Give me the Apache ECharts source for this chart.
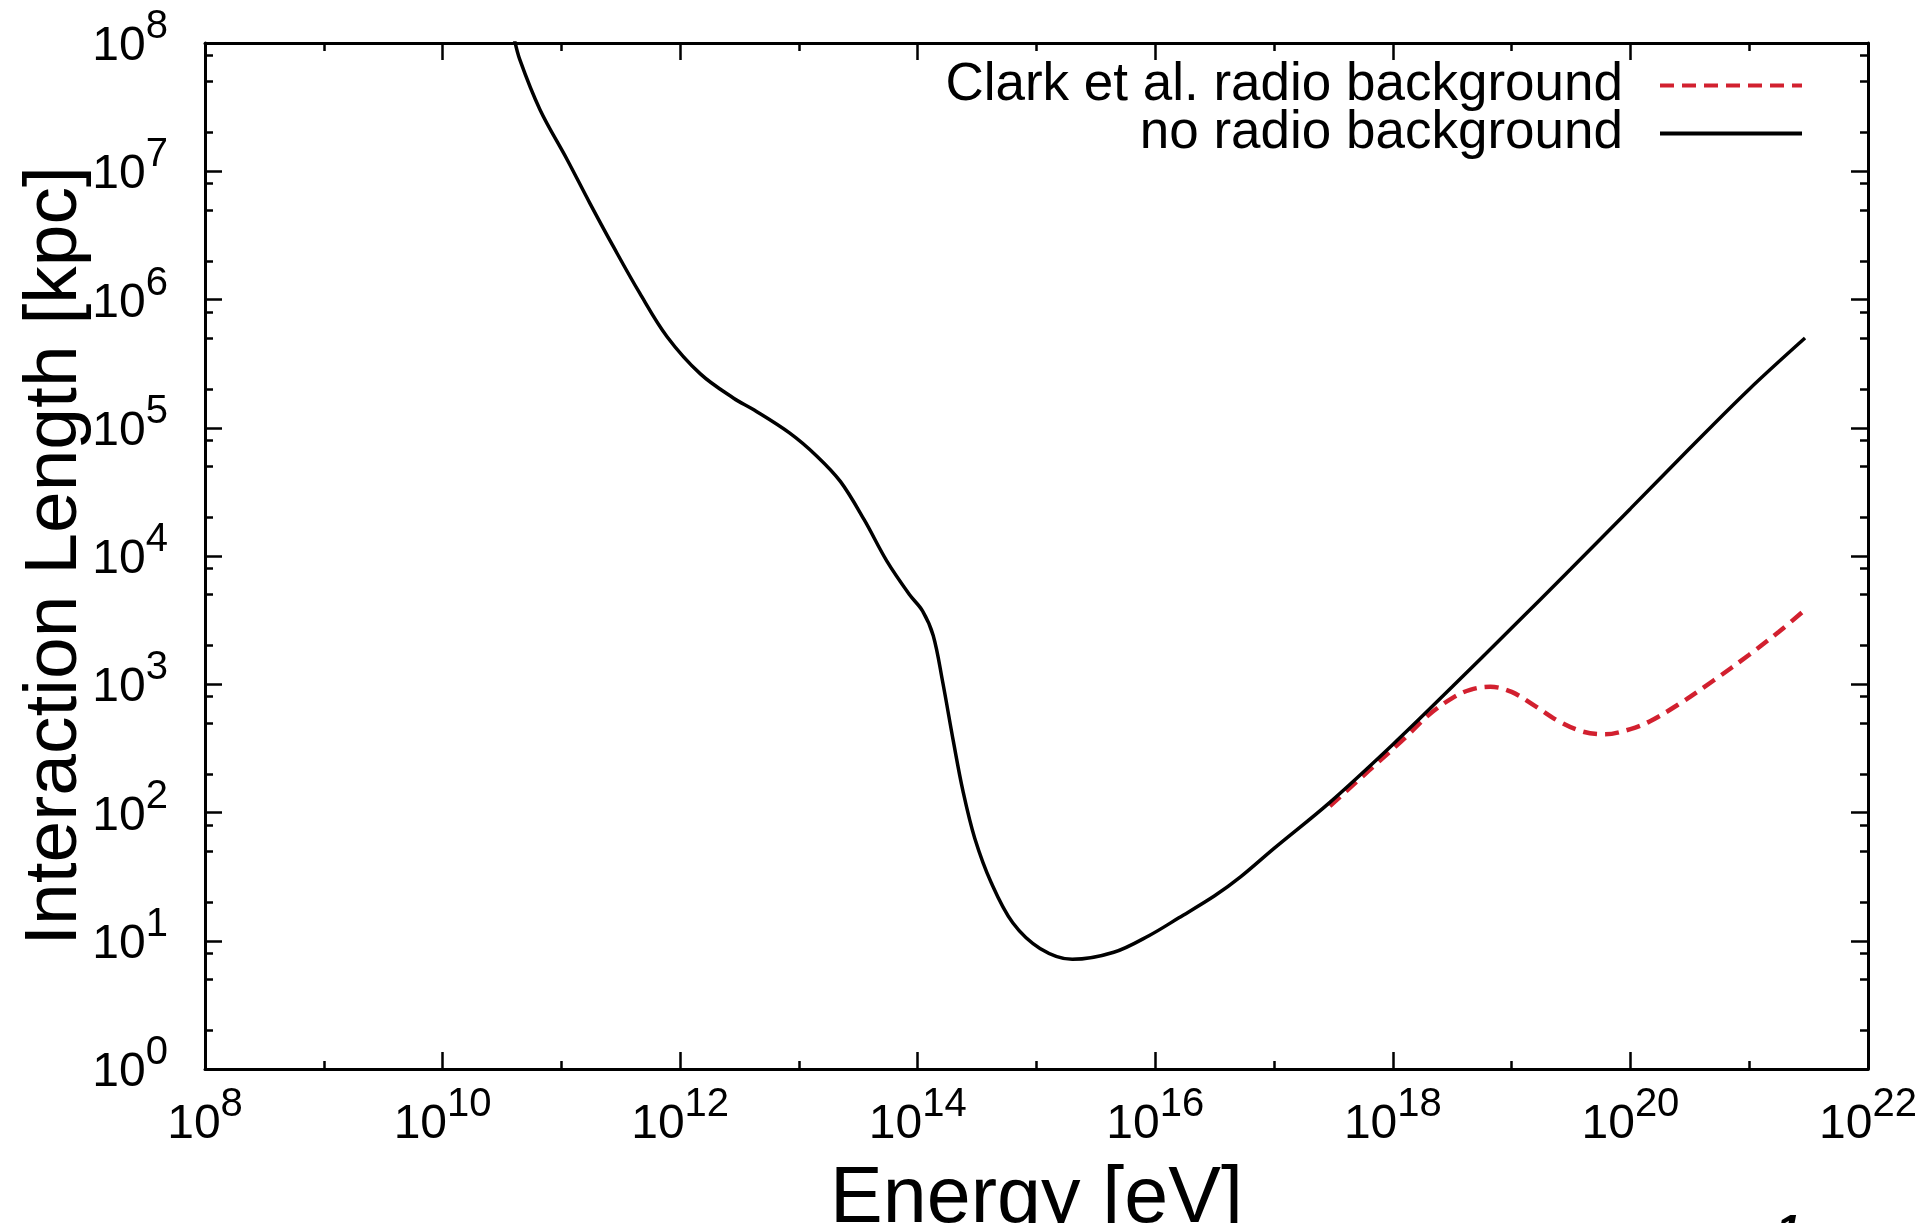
<!DOCTYPE html>
<html>
<head>
<meta charset="utf-8">
<title>Interaction length vs energy</title>
<script src="https://cdn.jsdelivr.net/npm/echarts@6/dist/echarts.min.js"></script>
<style>
  html, body { margin: 0; padding: 0; background: #ffffff; }
  #chart { width: 1927px; height: 1223px; }
</style>
</head>
<body>
<div id="chart"></div>
<script>
// Photon interaction length [kpc] versus energy [eV]
const seriesNames = ['Clark et al. radio background', 'no radio background'];

// no radio background
const energyNoRadio = [
  3.98e10, 4.47e10, 6.61e10, 1.12e11, 1.74e11, 2.75e11, 4.57e11, 7.76e11,
  1.48e12, 2.82e12, 4.17e12, 8.32e12, 1.41e13, 2.24e13, 3.55e13, 5.50e13,
  8.51e13, 1.10e14, 1.35e14, 1.62e14, 2.00e14, 2.40e14, 3.02e14, 4.17e14,
  6.31e14, 1.07e15, 2.00e15, 4.47e15, 8.91e15, 1.58e16, 3.16e16, 5.25e16,
  1.00e17, 2.95e17, 1.00e18, 3.16e18, 1.00e19, 3.16e19, 1.00e20, 3.16e20,
  1.00e21, 2.95e21
];
const lengthNoRadio = [
  1.12e8, 7.41e7, 3.02e7, 1.23e7, 5.62e6, 2.57e6, 1.12e6, 5.13e5,
  2.63e5, 1.70e5, 1.38e5, 9.12e4, 6.03e4, 3.80e4, 1.91e4, 9.12e3,
  5.01e3, 3.72e3, 2.40e3, 1.05e3, 355, 148, 63.1, 28.2,
  13.8, 8.71, 7.16, 8.13, 11.0, 15.1, 22.4, 31.6,
  52.5, 120, 339, 955, 2.75e3, 7.94e3, 2.34e4, 6.92e4,
  2.00e5, 5.01e5
];

// Clark et al. radio background
const energyRadio = [
  2.95e17, 6.31e17, 1.26e18, 2.00e18, 3.16e18, 4.47e18, 6.61e18, 1.00e19,
  1.58e19, 2.51e19, 3.98e19, 6.03e19, 1.00e20, 1.45e20, 2.51e20, 5.01e20,
  1.00e21, 1.78e21, 2.95e21
];
const lengthRadio = [
  112, 213, 380, 575, 780, 905, 955, 871,
  676, 513, 427, 407, 447, 513, 692, 1.07e3,
  1.70e3, 2.57e3, 3.80e3
];

// tick positions
const xMajorTicks = [1e8, 1e10, 1e12, 1e14, 1e16, 1e18, 1e20, 1e22];
const xMinorTicks = [1e9, 1e11, 1e13, 1e15, 1e17, 1e19, 1e21];
const yMajorTicks = [1, 1e1, 1e2, 1e3, 1e4, 1e5, 1e6, 1e7, 1e8];
const yMinorTicks = [
  2, 5, 8, 20, 50, 80, 200, 500, 800, 2e3, 5e3, 8e3,
  2e4, 5e4, 8e4, 2e5, 5e5, 8e5, 2e6, 5e6, 8e6, 2e7, 5e7, 8e7
];

const FONT = '"Liberation Sans", Arial, Helvetica, sans-serif';

function pairs(xs, ys) {
  return xs.map((x, i) => [x, ys[i]]);
}

function powerLabel(v) {
  const e = Math.round(Math.log10(v));
  return '10{sup|' + e + '}';
}

const labelRich = {
  sup: { fontSize: 40, lineHeight: 40, padding: [0, 0, 40, 0], fontFamily: FONT, color: '#000' }
};

function logAxis(extra) {
  return Object.assign({
    type: 'log',
    logBase: 10,
    splitLine: { show: false },
    minorTick: { show: false },
    minorSplitLine: { show: false },
    axisLine: { show: false },
    axisLabel: { show: false },
    axisPointer: { show: false },
    silent: true
  }, extra);
}

function ticks(values, len) {
  return {
    show: true, inside: true, length: len, customValues: values,
    lineStyle: { color: '#000', width: 2.5 }
  };
}

const frameLine = { show: true, onZero: false, lineStyle: { color: '#000', width: 3 } };

const chart = echarts.init(document.getElementById('chart'), null, { renderer: 'canvas' });

chart.setOption({
  backgroundColor: '#ffffff',
  animation: false,
  grid: {
    left: 205, right: 59, top: 43, bottom: 154,
    containLabel: false, outerBoundsMode: 'none'
  },
  legend: {
    data: seriesNames,
    orient: 'vertical',
    right: 123,
    top: 59,
    align: 'right',
    padding: 0,
    itemWidth: 142,
    itemHeight: 14,
    itemGap: -5,
    selectedMode: false,
    itemStyle: { opacity: 0, borderWidth: 0 },
    lineStyle: { width: 4 },
    textStyle: {
      fontSize: 53, fontFamily: FONT, color: '#000', lineHeight: 40,
      padding: [0, 32, 0, 0]
    }
  },
  xAxis: [
    logAxis({
      min: 1e8, max: 1e22, position: 'bottom',
      axisLine: frameLine,
      axisTick: ticks(xMajorTicks, 17),
      axisLabel: {
        show: true, customValues: xMajorTicks, formatter: powerLabel,
        margin: 31, fontSize: 48, lineHeight: 50, fontFamily: FONT, color: '#000',
        rich: labelRich
      },
      name: 'Energy [eV]',
      nameLocation: 'middle',
      nameGap: 91,
      nameMoveOverlap: false,
      nameTextStyle: { fontSize: 79, fontFamily: FONT, color: '#000', lineHeight: 80 }
    }),
    logAxis({ min: 1e8, max: 1e22, position: 'top', axisLine: frameLine, axisTick: ticks(xMajorTicks, 17) }),
    logAxis({ min: 1e8, max: 1e22, position: 'bottom', axisTick: ticks(xMinorTicks, 8) }),
    logAxis({ min: 1e8, max: 1e22, position: 'top', axisTick: ticks(xMinorTicks, 8) })
  ],
  yAxis: [
    logAxis({
      min: 1, max: 1e8, position: 'left',
      axisLine: frameLine,
      axisTick: ticks(yMajorTicks, 17),
      axisLabel: {
        show: true, customValues: yMajorTicks, formatter: powerLabel,
        margin: 37, fontSize: 48, lineHeight: 50, fontFamily: FONT, color: '#000',
        padding: [8, 0, 0, 0],
        rich: labelRich
      },
      name: 'Interaction Length [kpc]',
      nameLocation: 'middle',
      nameRotate: 90,
      nameGap: 112,
      nameMoveOverlap: false,
      nameTextStyle: { fontSize: 75, fontFamily: FONT, color: '#000', lineHeight: 76 }
    }),
    logAxis({ min: 1, max: 1e8, position: 'right', axisLine: frameLine, axisTick: ticks(yMajorTicks, 17) }),
    logAxis({ min: 1, max: 1e8, position: 'left', axisTick: ticks(yMinorTicks, 8) }),
    logAxis({ min: 1, max: 1e8, position: 'right', axisTick: ticks(yMinorTicks, 8) })
  ],
  series: [
    {
      name: seriesNames[0],
      type: 'line',
      xAxisIndex: 0, yAxisIndex: 0,
      data: pairs(energyRadio, lengthRadio),
      showSymbol: false, symbol: 'none',
      smooth: 0.35,
      lineStyle: { color: '#d2202f', width: 4.5, type: [14, 8] },
      itemStyle: { color: '#d2202f' },
      z: 2
    },
    {
      name: seriesNames[1],
      type: 'line',
      xAxisIndex: 0, yAxisIndex: 0,
      data: pairs(energyNoRadio, lengthNoRadio),
      showSymbol: false, symbol: 'none',
      smooth: 0.35,
      lineStyle: { color: '#000000', width: 3.5 },
      itemStyle: { color: '#000000' },
      z: 3
    }
  ],
  graphic: [
    {
      type: 'text', left: 1776, top: 1212, silent: true,
      style: { text: '1', font: 'italic bold 44px ' + FONT, fill: '#000' }
    }
  ]
});
</script>
</body>
</html>
